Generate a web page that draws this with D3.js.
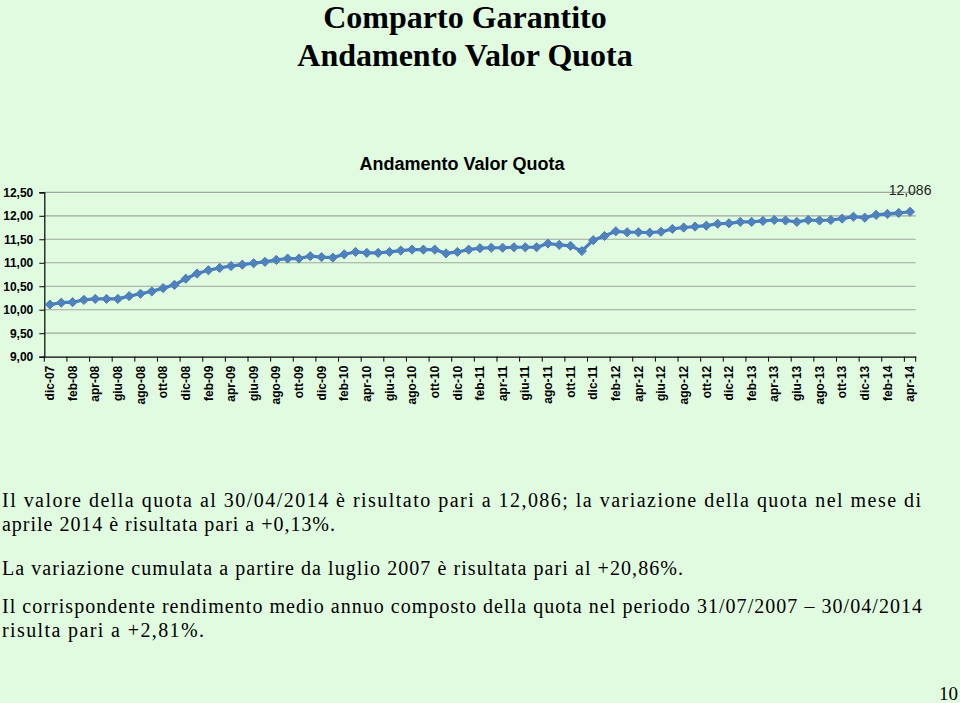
<!DOCTYPE html>
<html><head><meta charset="utf-8">
<script src="https://cdn.jsdelivr.net/npm/d3@7"></script>
<style>
html,body{margin:0;padding:0;background:#e1fbe1;}
svg{display:block;}
</style></head>
<body>
<svg id="c" width="960" height="703"></svg>
<script>
const monthNames = ["gen","feb","mar","apr","mag","giu","lug","ago","set","ott","nov","dic"];
const categories = [];
for (let y = 2007, m = 11; y < 2014 || (y === 2014 && m <= 3); ) {
  categories.push(monthNames[m] + "-" + String(y).slice(2));
  m++; if (m === 12) { m = 0; y++; }
}
const values = [
  10.11,10.15,10.16,10.21,10.23,10.23,10.23,10.29,10.34,10.39,
  10.46,10.53,10.66,10.77,10.84,10.89,10.93,10.96,10.99,11.02,
  11.06,11.09,11.09,11.14,11.12,11.11,11.18,11.23,11.21,11.21,
  11.23,11.26,11.28,11.28,11.28,11.20,11.23,11.28,11.31,11.32,
  11.32,11.33,11.33,11.33,11.41,11.38,11.36,11.25,11.48,11.57,
  11.67,11.65,11.65,11.64,11.66,11.72,11.75,11.77,11.79,11.83,
  11.84,11.87,11.87,11.89,11.91,11.90,11.87,11.91,11.90,11.91,
  11.94,11.98,11.96,12.02,12.04,12.06,12.086
];
const yTicks = [9.0, 9.5, 10.0, 10.5, 11.0, 11.5, 12.0, 12.5];
const lastLabel = "12,086";
const titleLines = ["Comparto Garantito", "Andamento Valor Quota"];
const chartTitle = "Andamento Valor Quota";
const paragraphs = [
  {text: "Il valore della quota al 30/04/2014 è risultato pari a 12,086; la variazione della quota nel mese di", y: 507, w: 919},
  {text: "aprile 2014 è risultata pari a +0,13%.", y: 531, w: 333},
  {text: "La variazione cumulata a partire da luglio 2007 è risultata pari al +20,86%.", y: 575, w: 681},
  {text: "Il corrispondente rendimento medio annuo composto della quota nel periodo 31/07/2007 – 30/04/2014", y: 613, w: 920},
  {text: "risulta pari a +2,81%.", y: 637, w: 202}
];
const pageNum = "10";

const svg = d3.select("#c");
const fmt = v => d3.format(".2f")(v).replace(".", ",");

// Titles
svg.selectAll("text.title").data(titleLines).join("text")
  .attr("class","title")
  .attr("x", 465).attr("y", (d,i) => 28 + i*38)
  .attr("text-anchor","middle")
  .attr("font-family","'Liberation Serif','Times New Roman',serif")
  .attr("font-weight","bold").attr("font-size", 32)
  .attr("fill","#000").text(d => d);

svg.append("text").attr("x", 462).attr("y", 170)
  .attr("text-anchor","middle")
  .attr("font-family","'Liberation Sans',Arial,sans-serif")
  .attr("font-weight","bold").attr("font-size", 18)
  .attr("fill","#000").text(chartTitle);

// Plot
const L = 44.3, R = 915.7, T = 192.3, B = 356.7;
const x = d3.scaleBand().domain(categories).range([L, R]).padding(0);
const y = d3.scaleLinear().domain([9, 12.5]).range([B, T]);
const cx = d => x(d) + x.bandwidth()/2;

// gridlines
svg.append("g").selectAll("line").data(yTicks.filter(t => t > 9)).join("line")
  .attr("x1", L).attr("x2", R)
  .attr("y1", d => y(d)).attr("y2", d => y(d))
  .attr("stroke","#9ea89e").attr("stroke-width", 1.2);

// Y axis
const yAxis = d3.axisLeft(y).tickValues(yTicks).tickFormat(fmt).tickSize(5).tickPadding(6);
const gy = svg.append("g").attr("transform", `translate(${L},0)`).call(yAxis);
gy.select(".domain").attr("stroke","#000").attr("stroke-width",1.2);
gy.selectAll(".tick line").attr("stroke","#000");
gy.selectAll("text").attr("font-family","'Liberation Sans',Arial,sans-serif")
  .attr("font-weight","bold").attr("font-size", 12).attr("fill","#000");

// X axis
const labelCats = categories.filter((d,i) => i % 2 === 0);
const xAxis = d3.axisBottom(x).tickValues(labelCats).tickSize(0).tickPadding(0).tickSizeOuter(0);
const gx = svg.append("g").attr("transform", `translate(0,${B})`).call(xAxis);
gx.select(".domain").attr("stroke","#000").attr("stroke-width",1.2);
gx.selectAll(".tick text")
  .attr("font-family","'Liberation Sans',Arial,sans-serif")
  .attr("font-weight","bold").attr("font-size", 12).attr("fill","#000")
  .attr("transform","rotate(-90)")
  .attr("text-anchor","end")
  .attr("x", -9).attr("y", 0).attr("dy","0.35em");
// tick marks at band boundaries every 2 categories
svg.append("g").selectAll("line").data(labelCats).join("line")
  .attr("x1", d => x(d)).attr("x2", d => x(d))
  .attr("y1", B).attr("y2", B + 5)
  .attr("stroke","#000");
svg.append("line").attr("x1", R).attr("x2", R).attr("y1", B).attr("y2", B+5).attr("stroke","#000");

// Line
const line = d3.line().x((d,i) => cx(categories[i])).y(d => y(d));
svg.append("path").datum(values).attr("d", line)
  .attr("fill","none").attr("stroke","#4a7ebb").attr("stroke-width", 3.2)
  .attr("stroke-linejoin","round");

// markers
const r = 4.6;
svg.append("g").selectAll("path").data(values).join("path")
  .attr("transform", (d,i) => `translate(${cx(categories[i])},${y(d)})`)
  .attr("d", `M0,${-r}L${r},0L0,${r}L${-r},0Z`)
  .attr("fill","#4f81bd").attr("stroke","#4a7ebb").attr("stroke-width",1);

// last data label
svg.append("text")
  .attr("x", cx(categories[categories.length-1]))
  .attr("y", y(values[values.length-1]) - 17)
  .attr("text-anchor","middle")
  .attr("font-family","'Liberation Sans',Arial,sans-serif")
  .attr("font-size", 14).attr("fill","#222").text(lastLabel);

// Paragraph text
svg.selectAll("text.para").data(paragraphs).join("text")
  .attr("class","para")
  .attr("x", 2).attr("y", d => d.y)
  .attr("font-family","'Liberation Serif','Times New Roman',serif")
  .attr("font-size", 20).attr("fill","#000")
  .attr("textLength", d => d.w).attr("lengthAdjust","spacing")
  .text(d => d.text);

svg.append("text").attr("x", 958).attr("y", 700).attr("text-anchor","end")
  .attr("font-family","'Liberation Serif','Times New Roman',serif")
  .attr("font-size", 19).attr("fill","#000").text(pageNum);
</script>
</body></html>
